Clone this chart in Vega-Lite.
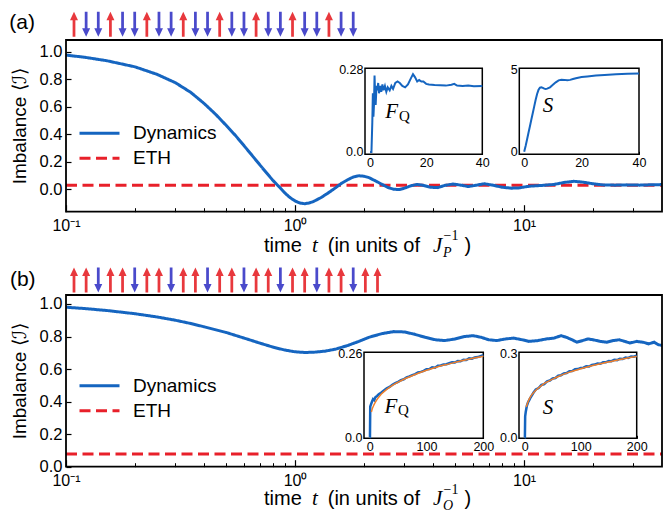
{
  "$schema": "https://vega.github.io/schema/vega-lite/v6.json",
  "width": 670,
  "height": 512,
  "autosize": {"type": "none"},
  "padding": 0,
  "background": "white",
  "config": {
    "view": {"stroke": null},
    "font": "Liberation Sans",
    "axis": {"grid": false, "labelFont": "Liberation Sans", "labelColor": "black", "tickColor": "black", "domainColor": "black", "titleFont": "Liberation Sans", "titleFontWeight": "normal", "titleColor": "black", "labelFlush": false, "labelOverlap": false}
  },
  "datasets": {
    "mainA": [
      {"series": "ETH", "t": 0.1, "v": 0.03}, {"series": "ETH", "t": 40, "v": 0.03},
      {"series": "Dynamics", "t": 0.1, "v": 0.975}, {"series": "Dynamics", "t": 0.12, "v": 0.96}, {"series": "Dynamics", "t": 0.15, "v": 0.935},
      {"series": "Dynamics", "t": 0.2, "v": 0.89}, {"series": "Dynamics", "t": 0.25, "v": 0.835}, {"series": "Dynamics", "t": 0.3, "v": 0.775},
      {"series": "Dynamics", "t": 0.35, "v": 0.705}, {"series": "Dynamics", "t": 0.4, "v": 0.625}, {"series": "Dynamics", "t": 0.45, "v": 0.545},
      {"series": "Dynamics", "t": 0.5, "v": 0.465}, {"series": "Dynamics", "t": 0.55, "v": 0.39}, {"series": "Dynamics", "t": 0.6, "v": 0.315},
      {"series": "Dynamics", "t": 0.65, "v": 0.245}, {"series": "Dynamics", "t": 0.7, "v": 0.18}, {"series": "Dynamics", "t": 0.75, "v": 0.12},
      {"series": "Dynamics", "t": 0.8, "v": 0.065}, {"series": "Dynamics", "t": 0.85, "v": 0.02}, {"series": "Dynamics", "t": 0.9, "v": -0.025},
      {"series": "Dynamics", "t": 0.95, "v": -0.06}, {"series": "Dynamics", "t": 1.0, "v": -0.085}, {"series": "Dynamics", "t": 1.05, "v": -0.1},
      {"series": "Dynamics", "t": 1.1, "v": -0.105}, {"series": "Dynamics", "t": 1.15, "v": -0.1}, {"series": "Dynamics", "t": 1.2, "v": -0.09},
      {"series": "Dynamics", "t": 1.3, "v": -0.06}, {"series": "Dynamics", "t": 1.4, "v": -0.025}, {"series": "Dynamics", "t": 1.5, "v": 0.01},
      {"series": "Dynamics", "t": 1.6, "v": 0.045}, {"series": "Dynamics", "t": 1.7, "v": 0.07}, {"series": "Dynamics", "t": 1.8, "v": 0.09},
      {"series": "Dynamics", "t": 1.9, "v": 0.098}, {"series": "Dynamics", "t": 2.0, "v": 0.095}, {"series": "Dynamics", "t": 2.1, "v": 0.085},
      {"series": "Dynamics", "t": 2.25, "v": 0.06}, {"series": "Dynamics", "t": 2.4, "v": 0.035}, {"series": "Dynamics", "t": 2.55, "v": 0.012},
      {"series": "Dynamics", "t": 2.7, "v": 0.0}, {"series": "Dynamics", "t": 2.85, "v": -0.002}, {"series": "Dynamics", "t": 3.0, "v": 0.008},
      {"series": "Dynamics", "t": 3.2, "v": 0.025}, {"series": "Dynamics", "t": 3.4, "v": 0.035}, {"series": "Dynamics", "t": 3.6, "v": 0.03},
      {"series": "Dynamics", "t": 3.9, "v": 0.015}, {"series": "Dynamics", "t": 4.2, "v": 0.012}, {"series": "Dynamics", "t": 4.5, "v": 0.028},
      {"series": "Dynamics", "t": 4.9, "v": 0.038}, {"series": "Dynamics", "t": 5.3, "v": 0.03}, {"series": "Dynamics", "t": 5.7, "v": 0.02},
      {"series": "Dynamics", "t": 6.2, "v": 0.03}, {"series": "Dynamics", "t": 6.7, "v": 0.04}, {"series": "Dynamics", "t": 7.3, "v": 0.03},
      {"series": "Dynamics", "t": 8.0, "v": 0.015}, {"series": "Dynamics", "t": 8.8, "v": 0.008}, {"series": "Dynamics", "t": 9.5, "v": 0.01},
      {"series": "Dynamics", "t": 10.5, "v": 0.022}, {"series": "Dynamics", "t": 12, "v": 0.028}, {"series": "Dynamics", "t": 13.5, "v": 0.035},
      {"series": "Dynamics", "t": 15, "v": 0.05}, {"series": "Dynamics", "t": 16.5, "v": 0.058}, {"series": "Dynamics", "t": 18, "v": 0.052},
      {"series": "Dynamics", "t": 20, "v": 0.04}, {"series": "Dynamics", "t": 22, "v": 0.032}, {"series": "Dynamics", "t": 25, "v": 0.03},
      {"series": "Dynamics", "t": 28, "v": 0.032}, {"series": "Dynamics", "t": 32, "v": 0.03}, {"series": "Dynamics", "t": 36, "v": 0.033},
      {"series": "Dynamics", "t": 40, "v": 0.034}
    ],
    "mainB": [
      {"series": "ETH", "t": 0.1, "v": 0.078}, {"series": "ETH", "t": 40, "v": 0.078},
      {"series": "Dynamics", "t": 0.1, "v": 0.98}, {"series": "Dynamics", "t": 0.12, "v": 0.972}, {"series": "Dynamics", "t": 0.15, "v": 0.96},
      {"series": "Dynamics", "t": 0.2, "v": 0.94}, {"series": "Dynamics", "t": 0.25, "v": 0.92}, {"series": "Dynamics", "t": 0.3, "v": 0.9},
      {"series": "Dynamics", "t": 0.35, "v": 0.88}, {"series": "Dynamics", "t": 0.4, "v": 0.86}, {"series": "Dynamics", "t": 0.5, "v": 0.825},
      {"series": "Dynamics", "t": 0.6, "v": 0.79}, {"series": "Dynamics", "t": 0.7, "v": 0.76}, {"series": "Dynamics", "t": 0.8, "v": 0.735},
      {"series": "Dynamics", "t": 0.9, "v": 0.717}, {"series": "Dynamics", "t": 1.0, "v": 0.706}, {"series": "Dynamics", "t": 1.1, "v": 0.702},
      {"series": "Dynamics", "t": 1.2, "v": 0.703}, {"series": "Dynamics", "t": 1.35, "v": 0.71}, {"series": "Dynamics", "t": 1.5, "v": 0.722},
      {"series": "Dynamics", "t": 1.7, "v": 0.745}, {"series": "Dynamics", "t": 1.9, "v": 0.77}, {"series": "Dynamics", "t": 2.1, "v": 0.795},
      {"series": "Dynamics", "t": 2.4, "v": 0.818}, {"series": "Dynamics", "t": 2.7, "v": 0.83}, {"series": "Dynamics", "t": 3.0, "v": 0.828},
      {"series": "Dynamics", "t": 3.3, "v": 0.815}, {"series": "Dynamics", "t": 3.7, "v": 0.795}, {"series": "Dynamics", "t": 4.1, "v": 0.78},
      {"series": "Dynamics", "t": 4.5, "v": 0.775}, {"series": "Dynamics", "t": 5.0, "v": 0.785}, {"series": "Dynamics", "t": 5.5, "v": 0.8},
      {"series": "Dynamics", "t": 6.0, "v": 0.805}, {"series": "Dynamics", "t": 6.5, "v": 0.795}, {"series": "Dynamics", "t": 7.0, "v": 0.78},
      {"series": "Dynamics", "t": 7.6, "v": 0.775}, {"series": "Dynamics", "t": 8.3, "v": 0.785}, {"series": "Dynamics", "t": 9.0, "v": 0.79},
      {"series": "Dynamics", "t": 9.8, "v": 0.78}, {"series": "Dynamics", "t": 10.5, "v": 0.77}, {"series": "Dynamics", "t": 11.5, "v": 0.775},
      {"series": "Dynamics", "t": 12.5, "v": 0.785}, {"series": "Dynamics", "t": 13.5, "v": 0.79}, {"series": "Dynamics", "t": 14.5, "v": 0.805},
      {"series": "Dynamics", "t": 15.3, "v": 0.795}, {"series": "Dynamics", "t": 16.2, "v": 0.78}, {"series": "Dynamics", "t": 17, "v": 0.765},
      {"series": "Dynamics", "t": 18, "v": 0.775}, {"series": "Dynamics", "t": 19, "v": 0.785}, {"series": "Dynamics", "t": 20, "v": 0.78},
      {"series": "Dynamics", "t": 21.5, "v": 0.77}, {"series": "Dynamics", "t": 23, "v": 0.765}, {"series": "Dynamics", "t": 24.5, "v": 0.775},
      {"series": "Dynamics", "t": 26, "v": 0.78}, {"series": "Dynamics", "t": 27.5, "v": 0.77}, {"series": "Dynamics", "t": 29, "v": 0.76},
      {"series": "Dynamics", "t": 31, "v": 0.77}, {"series": "Dynamics", "t": 33, "v": 0.765}, {"series": "Dynamics", "t": 35, "v": 0.755},
      {"series": "Dynamics", "t": 37, "v": 0.765}, {"series": "Dynamics", "t": 38.5, "v": 0.75}, {"series": "Dynamics", "t": 40, "v": 0.745}
    ],
    "fqA": [
      {"t": 0, "v": 0}, {"t": 0.5, "v": 0}, {"t": 0.8, "v": 0.1}, {"t": 1.0, "v": 0.2}, {"t": 1.2, "v": 0.12}, {"t": 1.4, "v": 0.16},
      {"t": 1.6, "v": 0.26}, {"t": 1.8, "v": 0.2}, {"t": 2.0, "v": 0.16}, {"t": 2.3, "v": 0.225}, {"t": 2.6, "v": 0.21}, {"t": 2.9, "v": 0.235},
      {"t": 3.2, "v": 0.2}, {"t": 3.6, "v": 0.225}, {"t": 4.0, "v": 0.205}, {"t": 4.4, "v": 0.23}, {"t": 4.8, "v": 0.21}, {"t": 5.3, "v": 0.225},
      {"t": 5.8, "v": 0.205}, {"t": 6.3, "v": 0.22}, {"t": 7.0, "v": 0.21}, {"t": 7.6, "v": 0.225}, {"t": 8.2, "v": 0.215}, {"t": 9.0, "v": 0.235},
      {"t": 9.8, "v": 0.24}, {"t": 10.6, "v": 0.235}, {"t": 11.5, "v": 0.225}, {"t": 12.5, "v": 0.22}, {"t": 13.5, "v": 0.23}, {"t": 14.5, "v": 0.25},
      {"t": 15.3, "v": 0.265}, {"t": 16, "v": 0.255}, {"t": 16.8, "v": 0.24}, {"t": 17.5, "v": 0.245}, {"t": 18.3, "v": 0.24}, {"t": 19, "v": 0.24},
      {"t": 20, "v": 0.232}, {"t": 21, "v": 0.23}, {"t": 23, "v": 0.228}, {"t": 25, "v": 0.227}, {"t": 27, "v": 0.226}, {"t": 29, "v": 0.229},
      {"t": 30, "v": 0.232}, {"t": 31, "v": 0.226}, {"t": 33, "v": 0.225}, {"t": 35, "v": 0.226}, {"t": 37, "v": 0.224}, {"t": 40, "v": 0.225}
    ],
    "sA": [
      {"t": 0, "v": 0}, {"t": 0.5, "v": 0.35}, {"t": 1, "v": 0.75}, {"t": 1.5, "v": 1.15}, {"t": 2, "v": 1.55}, {"t": 2.5, "v": 1.95},
      {"t": 3, "v": 2.35}, {"t": 3.5, "v": 2.75}, {"t": 4, "v": 3.15}, {"t": 4.5, "v": 3.5}, {"t": 5, "v": 3.75}, {"t": 5.5, "v": 3.88},
      {"t": 6, "v": 3.9}, {"t": 6.5, "v": 3.87}, {"t": 7, "v": 3.82}, {"t": 7.5, "v": 3.8}, {"t": 8, "v": 3.82}, {"t": 9, "v": 3.9},
      {"t": 10, "v": 4.05}, {"t": 11, "v": 4.2}, {"t": 12, "v": 4.32}, {"t": 13, "v": 4.36}, {"t": 14, "v": 4.35}, {"t": 15, "v": 4.33},
      {"t": 16, "v": 4.35}, {"t": 17, "v": 4.4}, {"t": 18, "v": 4.45}, {"t": 20, "v": 4.52}, {"t": 22, "v": 4.56}, {"t": 25, "v": 4.61},
      {"t": 28, "v": 4.65}, {"t": 32, "v": 4.69}, {"t": 36, "v": 4.72}, {"t": 40, "v": 4.74}
    ],
    "fqB": [
      {"t": 0, "v": 0}, {"t": 0.5, "v": 0}, {"t": 1, "v": 0.095}, {"t": 2, "v": 0.1}, {"t": 4, "v": 0.11}, {"t": 6, "v": 0.118},
      {"t": 8, "v": 0.115}, {"t": 10, "v": 0.124}, {"t": 13, "v": 0.128}, {"t": 16, "v": 0.133}, {"t": 20, "v": 0.138}, {"t": 25, "v": 0.145},
      {"t": 30, "v": 0.152}, {"t": 35, "v": 0.156}, {"t": 40, "v": 0.163}, {"t": 45, "v": 0.168}, {"t": 50, "v": 0.172}, {"t": 55, "v": 0.177},
      {"t": 60, "v": 0.18}, {"t": 65, "v": 0.186}, {"t": 70, "v": 0.189}, {"t": 75, "v": 0.193}, {"t": 80, "v": 0.196}, {"t": 85, "v": 0.201},
      {"t": 90, "v": 0.203}, {"t": 95, "v": 0.206}, {"t": 100, "v": 0.211}, {"t": 105, "v": 0.212}, {"t": 110, "v": 0.217}, {"t": 115, "v": 0.216},
      {"t": 120, "v": 0.222}, {"t": 125, "v": 0.223}, {"t": 130, "v": 0.226}, {"t": 135, "v": 0.227}, {"t": 140, "v": 0.23}, {"t": 145, "v": 0.233},
      {"t": 150, "v": 0.232}, {"t": 155, "v": 0.237}, {"t": 160, "v": 0.236}, {"t": 165, "v": 0.241}, {"t": 170, "v": 0.24}, {"t": 175, "v": 0.245},
      {"t": 180, "v": 0.244}, {"t": 185, "v": 0.248}, {"t": 190, "v": 0.249}, {"t": 195, "v": 0.252}, {"t": 200, "v": 0.255}
    ],
    "fqBfit": [
      {"t": 3, "v": 0.078}, {"t": 5, "v": 0.09}, {"t": 10, "v": 0.109}, {"t": 20, "v": 0.133}, {"t": 30, "v": 0.1485}, {"t": 40, "v": 0.161},
      {"t": 50, "v": 0.171}, {"t": 60, "v": 0.18}, {"t": 80, "v": 0.195}, {"t": 100, "v": 0.208}, {"t": 120, "v": 0.219}, {"t": 140, "v": 0.228},
      {"t": 160, "v": 0.237}, {"t": 180, "v": 0.245}, {"t": 200, "v": 0.252}
    ],
    "sB": [
      {"t": 0, "v": 0}, {"t": 0.5, "v": 0}, {"t": 1, "v": 0.075}, {"t": 2, "v": 0.09}, {"t": 4, "v": 0.112}, {"t": 6, "v": 0.124},
      {"t": 8, "v": 0.132}, {"t": 10, "v": 0.14}, {"t": 13, "v": 0.15}, {"t": 16, "v": 0.16}, {"t": 20, "v": 0.171}, {"t": 25, "v": 0.176},
      {"t": 30, "v": 0.187}, {"t": 35, "v": 0.19}, {"t": 40, "v": 0.2}, {"t": 45, "v": 0.203}, {"t": 50, "v": 0.21}, {"t": 55, "v": 0.212},
      {"t": 60, "v": 0.22}, {"t": 65, "v": 0.222}, {"t": 70, "v": 0.228}, {"t": 75, "v": 0.23}, {"t": 80, "v": 0.236}, {"t": 85, "v": 0.237},
      {"t": 90, "v": 0.243}, {"t": 95, "v": 0.244}, {"t": 100, "v": 0.248}, {"t": 105, "v": 0.249}, {"t": 110, "v": 0.254}, {"t": 115, "v": 0.253},
      {"t": 120, "v": 0.259}, {"t": 125, "v": 0.26}, {"t": 130, "v": 0.264}, {"t": 135, "v": 0.263}, {"t": 140, "v": 0.268}, {"t": 145, "v": 0.268},
      {"t": 150, "v": 0.273}, {"t": 155, "v": 0.272}, {"t": 160, "v": 0.277}, {"t": 165, "v": 0.276}, {"t": 170, "v": 0.281}, {"t": 175, "v": 0.28},
      {"t": 180, "v": 0.285}, {"t": 185, "v": 0.284}, {"t": 190, "v": 0.289}, {"t": 195, "v": 0.288}, {"t": 200, "v": 0.292}
    ],
    "sBfit": [
      {"t": 3, "v": 0.108}, {"t": 5, "v": 0.121}, {"t": 10, "v": 0.143}, {"t": 20, "v": 0.168}, {"t": 30, "v": 0.185}, {"t": 40, "v": 0.198},
      {"t": 50, "v": 0.208}, {"t": 60, "v": 0.2175}, {"t": 80, "v": 0.233}, {"t": 100, "v": 0.245}, {"t": 120, "v": 0.256}, {"t": 140, "v": 0.265},
      {"t": 160, "v": 0.274}, {"t": 180, "v": 0.282}, {"t": 200, "v": 0.289}
    ],
    "arrows": [
      {"panel": "a", "i": 0, "dir": "up"}, {"panel": "a", "i": 1, "dir": "down"}, {"panel": "a", "i": 2, "dir": "down"},
      {"panel": "a", "i": 3, "dir": "up"}, {"panel": "a", "i": 4, "dir": "down"}, {"panel": "a", "i": 5, "dir": "down"},
      {"panel": "a", "i": 6, "dir": "up"}, {"panel": "a", "i": 7, "dir": "down"}, {"panel": "a", "i": 8, "dir": "down"},
      {"panel": "a", "i": 9, "dir": "up"}, {"panel": "a", "i": 10, "dir": "down"}, {"panel": "a", "i": 11, "dir": "down"},
      {"panel": "a", "i": 12, "dir": "up"}, {"panel": "a", "i": 13, "dir": "down"}, {"panel": "a", "i": 14, "dir": "down"},
      {"panel": "a", "i": 15, "dir": "up"}, {"panel": "a", "i": 16, "dir": "down"}, {"panel": "a", "i": 17, "dir": "down"},
      {"panel": "a", "i": 18, "dir": "up"}, {"panel": "a", "i": 19, "dir": "down"}, {"panel": "a", "i": 20, "dir": "down"},
      {"panel": "a", "i": 21, "dir": "up"}, {"panel": "a", "i": 22, "dir": "down"}, {"panel": "a", "i": 23, "dir": "down"},
      {"panel": "b", "i": 0, "dir": "up"}, {"panel": "b", "i": 1, "dir": "up"}, {"panel": "b", "i": 2, "dir": "down"},
      {"panel": "b", "i": 3, "dir": "up"}, {"panel": "b", "i": 4, "dir": "up"}, {"panel": "b", "i": 5, "dir": "down"},
      {"panel": "b", "i": 6, "dir": "up"}, {"panel": "b", "i": 7, "dir": "up"}, {"panel": "b", "i": 8, "dir": "down"},
      {"panel": "b", "i": 9, "dir": "up"}, {"panel": "b", "i": 10, "dir": "up"}, {"panel": "b", "i": 11, "dir": "down"},
      {"panel": "b", "i": 12, "dir": "up"}, {"panel": "b", "i": 13, "dir": "up"}, {"panel": "b", "i": 14, "dir": "down"},
      {"panel": "b", "i": 15, "dir": "up"}, {"panel": "b", "i": 16, "dir": "up"}, {"panel": "b", "i": 17, "dir": "down"},
      {"panel": "b", "i": 18, "dir": "up"}, {"panel": "b", "i": 19, "dir": "up"}, {"panel": "b", "i": 20, "dir": "down"},
      {"panel": "b", "i": 21, "dir": "up"}, {"panel": "b", "i": 22, "dir": "up"}, {"panel": "b", "i": 23, "dir": "down"},
      {"panel": "b", "i": 24, "dir": "up"}, {"panel": "b", "i": 25, "dir": "up"}
    ]
  },
  "layer": [
    {
      "layer": [
        {
          "data": {"name": "mainA"},
          "mark": {"type": "line", "strokeWidth": 3},
          "encoding": {
            "x": {"field": "t", "type": "quantitative", "scale": {"type": "log", "domain": [0.1, 40], "range": [66, 662], "nice": false},
              "axis": {"orient": "bottom", "offset": -300.3, "values": [0.1, 1, 10], "labelExpr": "datum.value < 0.5 ? '10⁻¹' : datum.value < 5 ? '10⁰' : '10¹'", "tickSize": -7, "tickWidth": 1.2, "labelPadding": 13, "labelFontSize": 16, "domain": false, "title": null}},
            "y": {"field": "v", "type": "quantitative", "scale": {"domain": [-0.163, 1.085], "range": [211.7, 40], "nice": false, "zero": false},
              "axis": {"orient": "left", "offset": -66, "values": [0, 0.2, 0.4, 0.6, 0.8, 1], "format": ".1f", "tickSize": -5, "tickWidth": 1.2, "labelPadding": 9, "labelFontSize": 16.5, "domain": false, "title": "Imbalance ⟨ℐ⟩", "titleFontSize": 19, "titlePadding": 10}},
            "color": {"field": "series", "type": "nominal", "scale": {"domain": ["Dynamics", "ETH"], "range": ["#1565c0", "#e8202a"]},
              "legend": {"orient": "none", "legendX": 78, "legendY": 123.3, "title": null, "symbolType": "stroke", "symbolSize": 1600, "symbolStrokeWidth": 3, "clipHeight": 20, "rowPadding": 5, "labelFontSize": 19, "labelOffset": 12, "labelFont": "Liberation Sans", "labelColor": "black", "padding": 0}},
            "strokeDash": {"field": "series", "type": "nominal", "scale": {"domain": ["Dynamics", "ETH"], "range": [[1, 0], [11, 5.5]]},
              "legend": {"orient": "none", "legendX": 78, "legendY": 123.3, "title": null, "symbolType": "stroke", "symbolSize": 1600, "symbolStrokeWidth": 3, "clipHeight": 20, "rowPadding": 5, "labelFontSize": 19, "labelOffset": 12, "labelFont": "Liberation Sans", "labelColor": "black", "padding": 0}}
          }
        },
        {"data": {"values": [{}]}, "mark": {"type": "text", "text": "(a)", "fontSize": 21, "align": "left", "baseline": "middle", "color": "black"},
          "encoding": {"x": {"datum": 0.0565}, "y": {"datum": 1.2064}}},
        {"data": {"values": [{}]}, "mark": {"type": "text", "text": "time", "fontSize": 20, "align": "left", "baseline": "alphabetic", "color": "black"},
          "encoding": {"x": {"datum": 0.7322}, "y": {"datum": -0.4523}}},
        {"data": {"values": [{}]}, "mark": {"type": "text", "text": "t", "font": "Liberation Serif", "fontStyle": "italic", "fontSize": 21, "align": "left", "baseline": "alphabetic", "color": "black"},
          "encoding": {"x": {"datum": 1.1864}, "y": {"datum": -0.4523}}},
        {"data": {"values": [{}]}, "mark": {"type": "text", "text": "(in units of", "fontSize": 20, "align": "left", "baseline": "alphabetic", "color": "black"},
          "encoding": {"x": {"datum": 1.3893}, "y": {"datum": -0.4523}}},
        {"data": {"values": [{}]}, "mark": {"type": "text", "text": "J", "font": "Liberation Serif", "fontStyle": "italic", "fontSize": 21, "align": "left", "baseline": "alphabetic", "color": "black"},
          "encoding": {"x": {"datum": 4.005}, "y": {"datum": -0.4523}}},
        {"data": {"values": [{}]}, "mark": {"type": "text", "text": "P", "font": "Liberation Serif", "fontStyle": "italic", "fontSize": 14, "align": "left", "baseline": "alphabetic", "color": "black"},
          "encoding": {"x": {"datum": 4.429}, "y": {"datum": -0.4887}}},
        {"data": {"values": [{}]}, "mark": {"type": "text", "text": "−1", "font": "Liberation Serif", "fontSize": 14, "align": "left", "baseline": "alphabetic", "color": "black"},
          "encoding": {"x": {"datum": 4.451}, "y": {"datum": -0.3723}}},
        {"data": {"values": [{}]}, "mark": {"type": "text", "text": ")", "fontSize": 20, "align": "left", "baseline": "alphabetic", "color": "black"},
          "encoding": {"x": {"datum": 5.497}, "y": {"datum": -0.4523}}}
      ]
    },
    {
      "data": {"values": [{}]},
      "mark": {"type": "rect", "filled": false, "stroke": "black", "strokeWidth": 1.8},
      "encoding": {
        "x": {"datum": 0.1, "type": "quantitative", "scale": {"type": "log", "domain": [0.1, 40], "range": [66, 662], "nice": false},
          "axis": {"orient": "bottom", "offset": -300.3, "values": [0.2, 0.3, 0.4, 0.5, 0.6, 0.7, 0.8, 0.9, 2, 3, 4, 5, 6, 7, 8, 9, 20, 30], "tickSize": -4, "tickWidth": 1, "labels": false, "domain": false, "title": null}},
        "x2": {"datum": 40},
        "y": {"datum": -0.163, "type": "quantitative", "scale": {"domain": [-0.163, 1.085], "range": [211.7, 40], "nice": false, "zero": false}, "axis": null},
        "y2": {"datum": 1.085}
      }
    },
    {
      "layer": [
        {
          "data": {"name": "mainB"},
          "mark": {"type": "line", "strokeWidth": 3},
          "encoding": {
            "x": {"field": "t", "type": "quantitative", "scale": {"type": "log", "domain": [0.1, 40], "range": [66, 662], "nice": false},
              "axis": {"orient": "bottom", "offset": -45.3, "values": [0.1, 1, 10], "labelExpr": "datum.value < 0.5 ? '10⁻¹' : datum.value < 5 ? '10⁰' : '10¹'", "tickSize": -7, "tickWidth": 1.2, "labelPadding": 13, "labelFontSize": 16, "domain": false, "title": null}},
            "y": {"field": "v", "type": "quantitative", "scale": {"domain": [0, 1.055], "range": [466.7, 295], "nice": false, "zero": false},
              "axis": {"orient": "left", "offset": -66, "values": [0, 0.2, 0.4, 0.6, 0.8, 1], "format": ".1f", "tickSize": -5, "tickWidth": 1.2, "labelPadding": 9, "labelFontSize": 16.5, "domain": false, "title": "Imbalance ⟨ℐ⟩", "titleFontSize": 19, "titlePadding": 10}},
            "color": {"field": "series", "type": "nominal", "scale": {"domain": ["Dynamics", "ETH"], "range": ["#1565c0", "#e8202a"]},
              "legend": {"orient": "none", "legendX": 78, "legendY": 375.7, "title": null, "symbolType": "stroke", "symbolSize": 1600, "symbolStrokeWidth": 3, "clipHeight": 20, "rowPadding": 5, "labelFontSize": 19, "labelOffset": 12, "labelFont": "Liberation Sans", "labelColor": "black", "padding": 0}},
            "strokeDash": {"field": "series", "type": "nominal", "scale": {"domain": ["Dynamics", "ETH"], "range": [[1, 0], [11, 5.5]]},
              "legend": {"orient": "none", "legendX": 78, "legendY": 375.7, "title": null, "symbolType": "stroke", "symbolSize": 1600, "symbolStrokeWidth": 3, "clipHeight": 20, "rowPadding": 5, "labelFontSize": 19, "labelOffset": 12, "labelFont": "Liberation Sans", "labelColor": "black", "padding": 0}}
          }
        },
        {"data": {"values": [{}]}, "mark": {"type": "text", "text": "(b)", "fontSize": 21, "align": "left", "baseline": "middle", "color": "black"},
          "encoding": {"x": {"datum": 0.0569}, "y": {"datum": 1.1472}}},
        {"data": {"values": [{}]}, "mark": {"type": "text", "text": "time", "fontSize": 20, "align": "left", "baseline": "alphabetic", "color": "black"},
          "encoding": {"x": {"datum": 0.7322}, "y": {"datum": -0.2353}}},
        {"data": {"values": [{}]}, "mark": {"type": "text", "text": "t", "font": "Liberation Serif", "fontStyle": "italic", "fontSize": 21, "align": "left", "baseline": "alphabetic", "color": "black"},
          "encoding": {"x": {"datum": 1.1864}, "y": {"datum": -0.2353}}},
        {"data": {"values": [{}]}, "mark": {"type": "text", "text": "(in units of", "fontSize": 20, "align": "left", "baseline": "alphabetic", "color": "black"},
          "encoding": {"x": {"datum": 1.3893}, "y": {"datum": -0.2353}}},
        {"data": {"values": [{}]}, "mark": {"type": "text", "text": "J", "font": "Liberation Serif", "fontStyle": "italic", "fontSize": 21, "align": "left", "baseline": "alphabetic", "color": "black"},
          "encoding": {"x": {"datum": 4.005}, "y": {"datum": -0.2353}}},
        {"data": {"values": [{}]}, "mark": {"type": "text", "text": "O", "font": "Liberation Serif", "fontStyle": "italic", "fontSize": 14, "align": "left", "baseline": "alphabetic", "color": "black"},
          "encoding": {"x": {"datum": 4.429}, "y": {"datum": -0.263}}},
        {"data": {"values": [{}]}, "mark": {"type": "text", "text": "−1", "font": "Liberation Serif", "fontSize": 14, "align": "left", "baseline": "alphabetic", "color": "black"},
          "encoding": {"x": {"datum": 4.451}, "y": {"datum": -0.1677}}},
        {"data": {"values": [{}]}, "mark": {"type": "text", "text": ")", "fontSize": 20, "align": "left", "baseline": "alphabetic", "color": "black"},
          "encoding": {"x": {"datum": 5.497}, "y": {"datum": -0.2353}}}
      ]
    },
    {
      "data": {"values": [{}]},
      "mark": {"type": "rect", "filled": false, "stroke": "black", "strokeWidth": 1.8},
      "encoding": {
        "x": {"datum": 0.1, "type": "quantitative", "scale": {"type": "log", "domain": [0.1, 40], "range": [66, 662], "nice": false},
          "axis": {"orient": "bottom", "offset": -45.3, "values": [0.2, 0.3, 0.4, 0.5, 0.6, 0.7, 0.8, 0.9, 2, 3, 4, 5, 6, 7, 8, 9, 20, 30], "tickSize": -4, "tickWidth": 1, "labels": false, "domain": false, "title": null}},
        "x2": {"datum": 40},
        "y": {"datum": 0, "type": "quantitative", "scale": {"domain": [0, 1.055], "range": [466.7, 295], "nice": false, "zero": false}, "axis": null},
        "y2": {"datum": 1.055}
      }
    },
    {
      "layer": [
        {"data": {"values": [{}]}, "mark": {"type": "rect", "fill": "white", "stroke": "black", "strokeWidth": 1.5},
          "encoding": {
            "x": {"datum": -1.8, "type": "quantitative", "scale": {"domain": [-1.8, 40], "range": [365, 482.3], "nice": false, "zero": false},
              "axis": {"orient": "bottom", "offset": -357.7, "values": [0, 20, 40], "tickSize": -3, "labelPadding": 5, "labelFontSize": 12.5, "domain": false, "title": null}},
            "x2": {"datum": 40},
            "y": {"datum": -0.008, "type": "quantitative", "scale": {"domain": [-0.008, 0.285], "range": [154.3, 68.3], "nice": false, "zero": false},
              "axis": {"orient": "left", "offset": -365, "values": [0, 0.28], "labelExpr": "datum.value == 0 ? '0.0' : '0.28'", "tickSize": -3, "labelPadding": 5, "labelFontSize": 12.5, "domain": false, "title": null}},
            "y2": {"datum": 0.285}
          }},
        {"data": {"name": "fqA"}, "mark": {"type": "line", "color": "#1565c0", "strokeWidth": 2},
          "encoding": {"x": {"field": "t", "type": "quantitative"}, "y": {"field": "v", "type": "quantitative"}}},
        {"data": {"values": [{}]}, "mark": {"type": "text", "text": "F", "font": "Liberation Serif", "fontStyle": "italic", "fontSize": 21, "align": "right", "baseline": "alphabetic", "color": "black"},
          "encoding": {"x": {"datum": 10.0}, "y": {"datum": 0.115}}},
        {"data": {"values": [{}]}, "mark": {"type": "text", "text": "Q", "font": "Liberation Serif", "fontSize": 15, "align": "left", "baseline": "alphabetic", "color": "black"},
          "encoding": {"x": {"datum": 10.3}, "y": {"datum": 0.104}}}
      ]
    },
    {
      "layer": [
        {"data": {"values": [{}]}, "mark": {"type": "rect", "fill": "white", "stroke": "black", "strokeWidth": 1.5},
          "encoding": {
            "x": {"datum": -1.7, "type": "quantitative", "scale": {"domain": [-1.7, 40], "range": [519.3, 639], "nice": false, "zero": false},
              "axis": {"orient": "bottom", "offset": -357.7, "values": [0, 20, 40], "tickSize": -3, "labelPadding": 5, "labelFontSize": 12.5, "domain": false, "title": null}},
            "x2": {"datum": 40},
            "y": {"datum": -0.15, "type": "quantitative", "scale": {"domain": [-0.15, 5.05], "range": [154.3, 68.3], "nice": false, "zero": false},
              "axis": {"orient": "left", "offset": -519.3, "values": [0, 5], "format": "d", "tickSize": -3, "labelPadding": 5, "labelFontSize": 12.5, "domain": false, "title": null}},
            "y2": {"datum": 5.05}
          }},
        {"data": {"name": "sA"}, "mark": {"type": "line", "color": "#1565c0", "strokeWidth": 2},
          "encoding": {"x": {"field": "t", "type": "quantitative"}, "y": {"field": "v", "type": "quantitative"}}},
        {"data": {"values": [{}]}, "mark": {"type": "text", "text": "S", "font": "Liberation Serif", "fontStyle": "italic", "fontSize": 21, "align": "center", "baseline": "alphabetic", "color": "black"},
          "encoding": {"x": {"datum": 8.3}, "y": {"datum": 2.39}}}
      ]
    },
    {
      "layer": [
        {"data": {"values": [{}]}, "mark": {"type": "rect", "fill": "white", "stroke": "black", "strokeWidth": 1.5},
          "encoding": {
            "x": {"datum": -10, "type": "quantitative", "scale": {"domain": [-10, 200], "range": [364, 483.3], "nice": false, "zero": false},
              "axis": {"orient": "bottom", "offset": -73.7, "values": [0, 100, 200], "tickSize": -3, "labelPadding": 5, "labelFontSize": 12.5, "domain": false, "title": null}},
            "x2": {"datum": 200},
            "y": {"datum": -0.004, "type": "quantitative", "scale": {"domain": [-0.004, 0.264], "range": [438.3, 352.3], "nice": false, "zero": false},
              "axis": {"orient": "left", "offset": -364, "values": [0, 0.26], "labelExpr": "datum.value == 0 ? '0.0' : '0.26'", "tickSize": -3, "labelPadding": 5, "labelFontSize": 12.5, "domain": false, "title": null}},
            "y2": {"datum": 0.264}
          }},
        {"data": {"name": "fqB"}, "mark": {"type": "line", "color": "#1565c0", "strokeWidth": 2.5},
          "encoding": {"x": {"field": "t", "type": "quantitative"}, "y": {"field": "v", "type": "quantitative"}}},
        {"data": {"name": "fqBfit"}, "mark": {"type": "line", "color": "#f07f2a", "strokeWidth": 1.5, "interpolate": "monotone"},
          "encoding": {"x": {"field": "t", "type": "quantitative"}, "y": {"field": "v", "type": "quantitative"}}},
        {"data": {"values": [{}]}, "mark": {"type": "text", "text": "F", "font": "Liberation Serif", "fontStyle": "italic", "fontSize": 21, "align": "right", "baseline": "alphabetic", "color": "black"},
          "encoding": {"x": {"datum": 48.6}, "y": {"datum": 0.0758}}},
        {"data": {"values": [{}]}, "mark": {"type": "text", "text": "Q", "font": "Liberation Serif", "fontSize": 15, "align": "left", "baseline": "alphabetic", "color": "black"},
          "encoding": {"x": {"datum": 49.8}, "y": {"datum": 0.0686}}}
      ]
    },
    {
      "layer": [
        {"data": {"values": [{}]}, "mark": {"type": "rect", "fill": "white", "stroke": "black", "strokeWidth": 1.5},
          "encoding": {
            "x": {"datum": -10, "type": "quantitative", "scale": {"domain": [-10, 200], "range": [519, 636.7], "nice": false, "zero": false},
              "axis": {"orient": "bottom", "offset": -73.7, "values": [0, 100, 200], "tickSize": -3, "labelPadding": 5, "labelFontSize": 12.5, "domain": false, "title": null}},
            "x2": {"datum": 200},
            "y": {"datum": -0.004, "type": "quantitative", "scale": {"domain": [-0.004, 0.304], "range": [438.3, 352.3], "nice": false, "zero": false},
              "axis": {"orient": "left", "offset": -519, "values": [0, 0.3], "format": ".1f", "tickSize": -3, "labelPadding": 5, "labelFontSize": 12.5, "domain": false, "title": null}},
            "y2": {"datum": 0.304}
          }},
        {"data": {"name": "sB"}, "mark": {"type": "line", "color": "#1565c0", "strokeWidth": 2.5},
          "encoding": {"x": {"field": "t", "type": "quantitative"}, "y": {"field": "v", "type": "quantitative"}}},
        {"data": {"name": "sBfit"}, "mark": {"type": "line", "color": "#f07f2a", "strokeWidth": 1.5, "interpolate": "monotone"},
          "encoding": {"x": {"field": "t", "type": "quantitative"}, "y": {"field": "v", "type": "quantitative"}}},
        {"data": {"values": [{}]}, "mark": {"type": "text", "text": "S", "font": "Liberation Serif", "fontStyle": "italic", "fontSize": 21, "align": "center", "baseline": "alphabetic", "color": "black"},
          "encoding": {"x": {"datum": 41.7}, "y": {"datum": 0.083}}}
      ]
    },
    {
      "data": {"name": "arrows"},
      "mark": {"type": "point", "filled": true, "opacity": 1, "strokeWidth": 0},
      "encoding": {
        "x": {"field": "i", "type": "quantitative", "scale": {"domain": [0, 25], "range": [74, 377.5], "nice": false, "zero": false}, "axis": null},
        "y": {"field": "panel", "type": "ordinal", "scale": {"type": "point", "domain": ["a", "b"], "range": [24.2, 280], "padding": 0}, "axis": null},
        "shape": {"field": "dir", "type": "nominal", "scale": {"domain": ["up", "down"], "range": ["M0,-1L0.32,-0.32L0.11,-0.32L0.11,1L-0.11,1L-0.11,-0.32L-0.32,-0.32Z", "M0,1L0.32,0.32L0.11,0.32L0.11,-1L-0.11,-1L-0.11,0.32L-0.32,0.32Z"]}, "legend": null},
        "color": {"field": "dir", "type": "nominal", "scale": {"domain": ["up", "down"], "range": ["#e8383d", "#4a4acb"]}, "legend": null},
        "size": {"value": 625}
      }
    }
  ],
  "resolve": {
    "scale": {"x": "independent", "y": "independent", "color": "independent", "strokeDash": "independent", "shape": "independent"},
    "axis": {"x": "independent", "y": "independent"},
    "legend": {"color": "independent", "strokeDash": "independent", "shape": "independent"}
  }
}
